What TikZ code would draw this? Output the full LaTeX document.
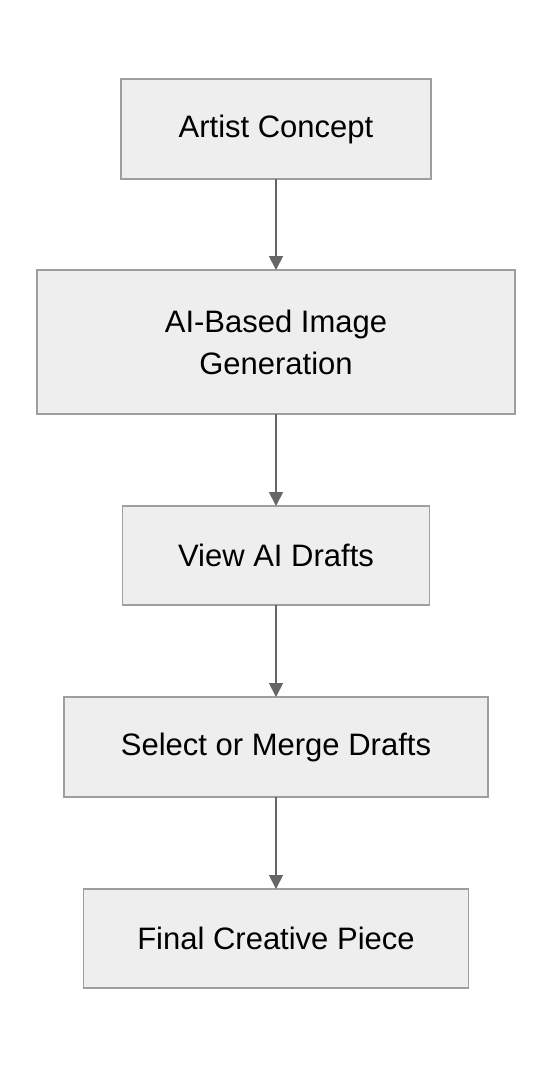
\documentclass[tikz,border=0pt]{standalone}
\usepackage{fontspec}
\setmainfont{Liberation Sans}
\usetikzlibrary{positioning,arrows.meta}
\definecolor{boxfill}{HTML}{EEEEEE}
\definecolor{boxline}{HTML}{9E9E9E}
\definecolor{arrowgray}{HTML}{666666}

\begin{document}
\begin{tikzpicture}[x=1pt, y=1pt, node distance=91pt,
    stepbox/.style={draw=boxline, line width=1.3pt, fill=boxfill, rectangle, minimum height=100pt, inner sep=0pt, outer sep=0pt, align=center, font=\fontsize{31}{42}\selectfont},
    flow/.style={-{Triangle[length=14pt, width=14pt]}, draw=arrowgray, line width=1.8pt}]
    % Canvas
    \useasboundingbox (0,0) rectangle (552,-1068);
    % Steps
    \node [stepbox, minimum width=310pt] (concept) at (276,-129) {Artist Concept};
    \node [stepbox, minimum width=478pt, minimum height=144pt, below=of concept] (generate) {AI-Based Image\\ Generation};
    \node [stepbox, minimum width=307pt, minimum height=99pt, below=92pt of generate] (drafts) {View AI Drafts};
    \node [stepbox, minimum width=424pt, below=92pt of drafts] (select) {Select or Merge Drafts};
    \node [stepbox, minimum width=385pt, minimum height=99pt, below=92pt of select] (final) {Final Creative Piece};
    % Arrows
    \draw [flow] (concept) -- (generate);
    \draw [flow] (generate) -- (drafts);
    \draw [flow] (drafts) -- (select);
    \draw [flow] (select) -- (final);
\end{tikzpicture}
\end{document}
